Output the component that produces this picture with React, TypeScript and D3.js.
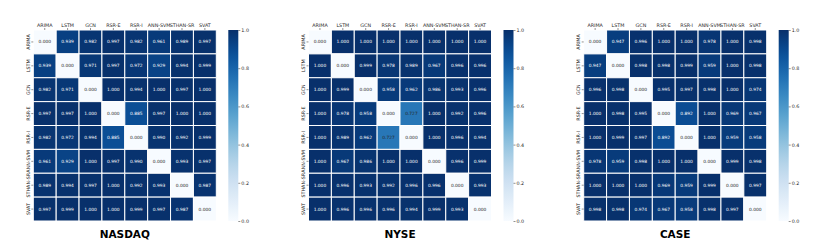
import React, { useEffect, useRef } from "react";
import * as d3 from "d3";

// model names, used for rows and columns
const models = ["ARIMA", "LSTM", "GCN", "RSR-E", "RSR-I", "ANN-SVM", "STHAN-SR", "SVAT"];

const nasdaq = [
  [0.0, 0.939, 0.982, 0.997, 0.982, 0.961, 0.989, 0.997],
  [0.939, 0.0, 0.971, 0.997, 0.972, 0.929, 0.994, 0.999],
  [0.982, 0.971, 0.0, 1.0, 0.994, 1.0, 0.997, 1.0],
  [0.997, 0.997, 1.0, 0.0, 0.885, 0.997, 1.0, 1.0],
  [0.982, 0.972, 0.994, 0.885, 0.0, 0.99, 0.992, 0.999],
  [0.961, 0.929, 1.0, 0.997, 0.99, 0.0, 0.993, 0.997],
  [0.989, 0.994, 0.997, 1.0, 0.992, 0.993, 0.0, 0.987],
  [0.997, 0.999, 1.0, 1.0, 0.999, 0.997, 0.987, 0.0],
];

const nyse = [
  [0.0, 1.0, 1.0, 1.0, 1.0, 1.0, 1.0, 1.0],
  [1.0, 0.0, 0.999, 0.978, 0.989, 0.967, 0.996, 0.996],
  [1.0, 0.999, 0.0, 0.958, 0.962, 0.986, 0.993, 0.996],
  [1.0, 0.978, 0.958, 0.0, 0.727, 1.0, 0.992, 0.996],
  [1.0, 0.989, 0.962, 0.727, 0.0, 1.0, 0.996, 0.994],
  [1.0, 0.967, 0.986, 1.0, 1.0, 0.0, 0.996, 0.999],
  [1.0, 0.996, 0.993, 0.992, 0.996, 0.996, 0.0, 0.993],
  [1.0, 0.996, 0.996, 0.996, 0.994, 0.999, 0.993, 0.0],
];

const caseData = [
  [0.0, 0.947, 0.996, 1.0, 1.0, 0.978, 1.0, 0.998],
  [0.947, 0.0, 0.998, 0.998, 0.999, 0.959, 1.0, 0.998],
  [0.996, 0.998, 0.0, 0.995, 0.997, 0.998, 1.0, 0.974],
  [1.0, 0.998, 0.995, 0.0, 0.892, 1.0, 0.969, 0.967],
  [1.0, 0.999, 0.997, 0.892, 0.0, 1.0, 0.959, 0.958],
  [0.978, 0.959, 0.998, 1.0, 1.0, 0.0, 0.999, 0.998],
  [1.0, 1.0, 1.0, 0.969, 0.959, 0.999, 0.0, 0.997],
  [0.998, 0.998, 0.974, 0.967, 0.958, 0.998, 0.997, 0.0],
];

const titles = ["NASDAQ", "NYSE", "CASE"];
const matrices = [nasdaq, nyse, caseData];
const colorbarTicks = [0, 0.2, 0.4, 0.6, 0.8, 1.0];

const W = 830,
  H = 249;
const panelLeft = [33.3, 308.5, 583.7];
const top = 30,
  hmW = 183,
  hmH = 191;
const cbOffset = 195,
  cbW = 10;
const font = "DejaVu Sans, sans-serif";

export default function App() {
  const ref = useRef<SVGSVGElement | null>(null);

  useEffect(() => {
    const svg = d3.select(ref.current);
    svg.selectAll("*").remove();

    const color = d3.scaleSequential(d3.interpolateBlues).domain([0, 1]);

    // gradient for the colorbars
    const grad = svg
      .append("defs")
      .append("linearGradient")
      .attr("id", "blues")
      .attr("x1", 0)
      .attr("y1", 1)
      .attr("x2", 0)
      .attr("y2", 0);
    grad
      .selectAll("stop")
      .data(d3.range(0, 1.0001, 0.05))
      .join("stop")
      .attr("offset", (d) => d)
      .attr("stop-color", (d) => color(d));

    matrices.forEach((m, k) => {
      const g = svg.append("g").attr("transform", `translate(${panelLeft[k]},${top})`);

      const x = d3.scaleBand().domain(models).range([0, hmW]);
      const y = d3.scaleBand().domain(models).range([0, hmH]);

      const cells = m.flatMap((row, i) => row.map((v, j) => ({ r: models[i], c: models[j], v })));

      g.selectAll(".cell")
        .data(cells)
        .join("rect")
        .attr("class", "cell")
        .attr("x", (d) => x(d.c)!)
        .attr("y", (d) => y(d.r)!)
        .attr("width", x.bandwidth())
        .attr("height", y.bandwidth())
        .attr("fill", (d) => color(d.v))
        .attr("stroke", "white")
        .attr("stroke-width", 1);

      g.selectAll(".annot")
        .data(cells)
        .join("text")
        .attr("class", "annot")
        .attr("x", (d) => x(d.c)! + x.bandwidth() / 2)
        .attr("y", (d) => y(d.r)! + y.bandwidth() / 2)
        .attr("dy", "0.35em")
        .attr("text-anchor", "middle")
        .style("font-family", font)
        .style("font-size", "4.4px")
        .attr("fill", (d) => {
          const c = d3.rgb(color(d.v));
          const lum = (0.2126 * c.r + 0.7152 * c.g + 0.0722 * c.b) / 255;
          return lum > 0.408 ? "#262626" : "white";
        })
        .text((d) => d.v.toFixed(3));

      // column labels on top
      const xa = g.append("g").call(d3.axisTop(x).tickSize(2).tickPadding(1.5));
      xa.select(".domain").remove();
      xa.selectAll("line").attr("stroke", "#262626").attr("stroke-width", 0.5);
      xa.selectAll("text").style("font-family", font).style("font-size", "4.8px").attr("fill", "#262626");

      // row labels on the left, rotated
      const ya = g.append("g").call(d3.axisLeft(y).tickSize(2).tickPadding(1.5));
      ya.select(".domain").remove();
      ya.selectAll("line").attr("stroke", "#262626").attr("stroke-width", 0.5);
      ya.selectAll("text")
        .style("font-family", font)
        .style("font-size", "4.8px")
        .attr("fill", "#262626")
        .attr("text-anchor", "middle")
        .attr("dy", 0)
        .attr("transform", "rotate(-90)")
        .attr("x", 0)
        .attr("y", -3.5);

      // colorbar
      const cb = g.append("g").attr("transform", `translate(${cbOffset},0)`);
      cb.append("rect").attr("width", cbW).attr("height", hmH).attr("fill", "url(#blues)");
      const cy = d3.scaleLinear().domain([0, 1]).range([hmH, 0]);
      const ca = cb
        .append("g")
        .attr("transform", `translate(${cbW},0)`)
        .call(d3.axisRight(cy).tickValues(colorbarTicks).tickFormat(d3.format(".1f")).tickSize(2).tickPadding(1));
      ca.select(".domain").remove();
      ca.selectAll("line").attr("stroke", "#262626").attr("stroke-width", 0.5);
      ca.selectAll("text").style("font-family", font).style("font-size", "4.8px").attr("fill", "#262626");

      // panel title below
      g.append("text")
        .attr("x", hmW / 2)
        .attr("y", hmH + 17)
        .attr("text-anchor", "middle")
        .style("font-family", font)
        .style("font-size", "10.5px")
        .style("font-weight", "bold")
        .attr("fill", "black")
        .text(titles[k]);
    });
  }, []);

  return (
    <svg
      ref={ref}
      width={W}
      height={H}
      style={{ position: "absolute", left: 0, top: 0, background: "white" }}
    />
  );
}
